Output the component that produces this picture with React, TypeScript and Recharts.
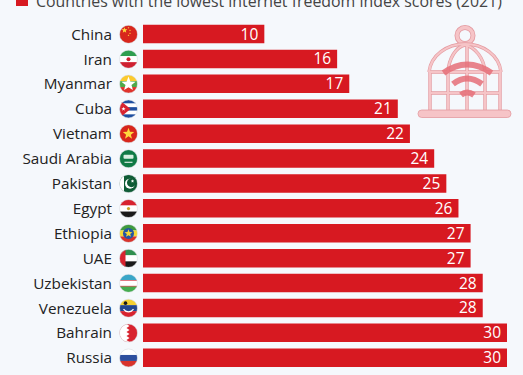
import React from "react";
import { BarChart, Bar, XAxis, YAxis, LabelList } from "recharts";

const countries = ["China","Iran","Myanmar","Cuba","Vietnam","Saudi Arabia","Pakistan","Egypt","Ethiopia","UAE","Uzbekistan","Venezuela","Bahrain","Russia"];
const scores = [10,16,17,21,22,24,25,26,27,27,28,28,30,30];
const seriesTitle = "Countries with the lowest internet freedom index scores (2021)";
const chartData = countries.map((country, i) => ({ country, score: scores[i] }));

const FONT = "'Open Sans', sans-serif";
const RED = "#d71921";
const BG = "#f5f8fc";
const R = 9;
const W = 2 * R;

const stripes = (cols: string[]) => cols.map((c, i) => (
  <rect key={i} x={-R} y={-R + (i * W) / cols.length} width={W} height={W / cols.length} fill={c} />
));
const star = (cx: number, cy: number, r: number, fill: string) => {
  const pts: string[] = [];
  for (let i = 0; i < 10; i++) {
    const a = -Math.PI / 2 + (i * Math.PI) / 5;
    const rr = i % 2 ? r * 0.42 : r;
    pts.push(`${cx + rr * Math.cos(a)},${cy + rr * Math.sin(a)}`);
  }
  return <polygon points={pts.join(" ")} fill={fill} />;
};

const flags: Record<string, React.ReactNode> = {
  China: <><rect x={-R} y={-R} width={W} height={W} fill="#d8261c" />{star(-4, -4, 3, "#ffd83d")}{star(0, -6.5, 1, "#ffd83d")}{star(1.5, -4, 1, "#ffd83d")}{star(1.5, -1, 1, "#ffd83d")}{star(0, 1, 1, "#ffd83d")}</>,
  Iran: <>{stripes(["#2f9e4f", "#ffffff", "#cf2030"])}<circle r={2} fill="#cf2030" /></>,
  Myanmar: <>{stripes(["#fcca2e", "#4fa84a", "#e0332c"])}{star(0, 0, 7.5, "#ffffff")}</>,
  Cuba: <>{stripes(["#1f4fa0", "#ffffff", "#1f4fa0", "#ffffff", "#1f4fa0"])}<polygon points="-9,-9 2,0 -9,9" fill="#d8232f" />{star(-5, 0, 2.2, "#ffffff")}</>,
  Vietnam: <><rect x={-R} y={-R} width={W} height={W} fill="#d8261c" />{star(0, 0, 6, "#ffd83d")}</>,
  "Saudi Arabia": <><rect x={-R} y={-R} width={W} height={W} fill="#0f7a45" /><rect x={-5} y={-4} width={10} height={4} rx={1} fill="#d8efe0" /><rect x={-4} y={3} width={8} height={1} fill="#ffffff" /></>,
  Pakistan: <><rect x={-R} y={-R} width={W} height={W} fill="#0f5c36" /><rect x={-R} y={-R} width={4.5} height={W} fill="#ffffff" /><circle cx={1.5} cy={0} r={5} fill="#ffffff" /><circle cx={3} cy={-1} r={4.5} fill="#0f5c36" />{star(4, -2.5, 1.8, "#ffffff")}</>,
  Egypt: <>{stripes(["#d8232f", "#ffffff", "#1a1a1a"])}<circle r={1.6} fill="#c9a227" /></>,
  Ethiopia: <>{stripes(["#3f9a3f", "#f5d936", "#d8332c"])}<circle r={5.5} fill="#2455a4" />{star(0, 0, 4.2, "#f5d936")}</>,
  UAE: <>{stripes(["#2f8f4e", "#ffffff", "#1a1a1a"])}<rect x={-R} y={-R} width={6} height={W} fill="#d8232f" /></>,
  Uzbekistan: <>{stripes(["#3aa6c8", "#ffffff", "#45ad4f"])}<rect x={-R} y={-3.2} width={W} height={0.6} fill="#d8232f" /><rect x={-R} y={2.6} width={W} height={0.6} fill="#d8232f" /></>,
  Venezuela: <>{stripes(["#f5d031", "#22468f", "#d8232f"])}<path d="M-5 1 A6 6 0 0 0 5 1" fill="none" stroke="#ffffff" strokeWidth={1.2} /><circle cx={-3} cy={-5} r={1.8} fill="#1a1a1a" /></>,
  Bahrain: <><rect x={-R} y={-R} width={W} height={W} fill="#d8232f" /><polygon points="-9,-9 -2,-9 1,-7 -2,-5 1,-3 -2,-1 1,1 -2,3 1,5 -2,7 1,9 -9,9" fill="#ffffff" /></>,
  Russia: <>{stripes(["#ffffff", "#2d4f9e", "#d8332c"])}</>,
};

const FlagTick = (props: any) => {
  const { x, y, payload } = props;
  const name: string = payload.value;
  const id = "f" + name.replace(/\s/g, "");
  return (
    <g transform={`translate(${x},${y})`}>
      <text x={-23} y={0} dy={5.4} textAnchor="end" fontFamily={FONT} fontSize={15.3} fill="#222222">{name}</text>
      <g transform="translate(-6.5,0)">
        <clipPath id={id}><circle r={R} /></clipPath>
        <g clipPath={`url(#${id})`}>{flags[name]}</g>
        <circle r={R} fill="none" stroke="#d5d8dc" strokeWidth={0.5} />
      </g>
    </g>
  );
};

const cagePaths = [
  "M430 110 V72 M448 110 V72 M467 110 V45 M485 110 V72 M500 110 V72",
  "M430 72 H500 M430 93 H500",
  "M429 72 C431 55 447 44 465 44 C483 44 499 55 501 72",
  "M448 72 C449 58 456 47 465 45 C475 47 484 58 485 72",
];

const Cage = () => (
  <svg width={523} height={375} style={{ position: "absolute", left: 0, top: 0, pointerEvents: "none" }}>
    <circle cx={465} cy={35.5} r={8} fill="none" stroke="#e39aa0" strokeWidth={5} />
    <circle cx={465} cy={35.5} r={8} fill="none" stroke="#f6c4c7" strokeWidth={3.4} />
    {cagePaths.map((d, i) => <path key={i} d={d} fill="none" stroke="#e39aa0" strokeWidth={3.4} />)}
    {cagePaths.map((d, i) => <path key={"i" + i} d={d} fill="none" stroke="#f6c4c7" strokeWidth={2.2} />)}
    <rect x={418} y={110} width={93} height={7.5} rx={3.7} fill="#f6c4c7" stroke="#e39aa0" strokeWidth={0.8} />
    <g fill="none" stroke="#e56f78" strokeOpacity={0.85} strokeWidth={6}>
      <path d="M443.5 73 Q467 56 491.5 73" />
      <path d="M453 84 Q467 73 482 84" />
      <path d="M461 95 Q467 90 474 95" />
    </g>
  </svg>
);

export default function App() {
  return (
    <div style={{ position: "absolute", left: 0, top: 0, width: 523, height: 375, background: BG, overflow: "hidden" }}>
      <div style={{ position: "absolute", left: 16, top: -6, width: 12, height: 12, background: RED }} />
      <div style={{ position: "absolute", left: 36, top: -12, whiteSpace: "nowrap", fontFamily: FONT, fontSize: 15.9, lineHeight: "26px", color: "#444444" }}>{seriesTitle}</div>
      <BarChart width={523} height={375} data={chartData} layout="vertical" margin={{ top: 21.8, right: 16, bottom: 4.6, left: 0 }} barSize={18.5}>
        <XAxis type="number" domain={[0, 30]} hide />
        <YAxis type="category" dataKey="country" width={143} axisLine={false} tickLine={false} interval={0} tick={<FlagTick />} />
        <Bar dataKey="score" fill={RED} isAnimationActive={false}>
          <LabelList dataKey="score" position="insideRight" offset={6} fill="#ffffff" fontFamily={FONT} fontSize={15.5} />
        </Bar>
      </BarChart>
      <Cage />
    </div>
  );
}
